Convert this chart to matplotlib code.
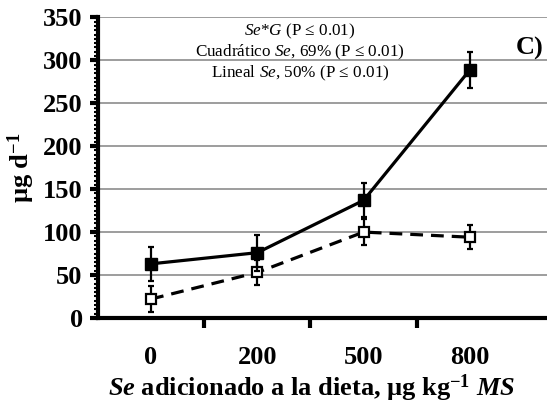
import numpy as np
import matplotlib
matplotlib.use("Agg")
import matplotlib.pyplot as plt
from matplotlib.ticker import MultipleLocator, FixedLocator

plt.rcParams['font.family'] = ['Liberation Serif', 'DejaVu Serif']
plt.rcParams['mathtext.fontset'] = 'custom'
plt.rcParams['mathtext.rm'] = 'Liberation Serif'
plt.rcParams['mathtext.it'] = 'Liberation Serif:italic'
plt.rcParams['mathtext.bf'] = 'Liberation Serif:bold'
plt.rcParams['mathtext.bfit'] = 'Liberation Serif:italic:bold'

categorias = ['0', '200', '500', '800']
serie_llena = [63, 76, 137, 289]      # cuadrados negros
err_llena = [20, 21, 20, 21]
serie_vacia = [22, 53, 100, 94]       # cuadrados blancos
err_vacia = [15, 15, 15, 14]

x = np.arange(len(categorias))

fig = plt.figure(figsize=(5.47, 4.05), dpi=100)
ax = fig.add_axes([0.179, 0.215, 0.821, 0.742])

ax.errorbar(x, serie_llena, yerr=err_llena, color='black', lw=2.3,
            marker='s', ms=8, mfc='black', mec='black',
            ecolor='black', elinewidth=1.6, capsize=2.5, capthick=1.6, zorder=4)
ax.errorbar(x, serie_vacia, yerr=err_vacia, color='black', lw=2.3, ls=(0, (4, 2.5)),
            marker='s', ms=7.5, mfc='white', mec='black', mew=1.6,
            ecolor='black', elinewidth=1.6, capsize=2.5, capthick=1.6, zorder=3)

ax.set_ylim(0, 350)
ax.set_xlim(-0.5, 3.725)
ax.yaxis.set_major_locator(MultipleLocator(50))
ax.yaxis.set_minor_locator(MultipleLocator(5))
ax.set_xticks(x)
ax.set_xticklabels(categorias)
ax.xaxis.set_minor_locator(FixedLocator([0.5, 1.5, 2.5]))
ax.grid(axis='y', which='major', color='#8c8c8c', lw=1.2)
ax.set_axisbelow(True)

for s in ['top', 'right']:
    ax.spines[s].set_visible(False)
for s in ['left', 'bottom']:
    ax.spines[s].set_linewidth(3)

ax.tick_params(axis='y', which='major', length=6, width=3, direction='out',
               labelsize=19, pad=5)
ax.tick_params(axis='y', which='minor', length=3, width=1.5, direction='out')
ax.tick_params(axis='x', which='major', length=0, labelsize=19, pad=20)
ax.tick_params(axis='x', which='minor', length=7, width=3, direction='out')
for lab in ax.get_xticklabels() + ax.get_yticklabels():
    lab.set_fontweight('bold')

ax.set_ylabel(r'µg d$^{\mathbf{-1}}$', fontsize=19, fontweight='bold', labelpad=4)
ax.set_xlabel(r'$\mathbfit{Se}$ adicionado a la dieta, µg kg$^{\mathbf{-1}}$ $\mathbfit{MS}$',
              fontsize=19, fontweight='bold', labelpad=4)
ax.xaxis.set_label_coords(0.477, -0.182)

tx = 1.4
ax.text(tx, 334, r'$\mathit{Se}$*$\mathit{G}$ (P ≤ 0.01)', ha='center', va='center', fontsize=12.3)
ax.text(tx, 309, r'Cuadrático $\mathit{Se}$, 69% (P ≤ 0.01)', ha='center', va='center', fontsize=12.3)
ax.text(tx, 284.5, r'Lineal $\mathit{Se}$, 50% (P ≤ 0.01)', ha='center', va='center', fontsize=12.3)
ax.text(3.56, 314, 'C)', ha='center', va='center', fontsize=19, fontweight='bold')

fig.savefig('out.png', dpi=100)
